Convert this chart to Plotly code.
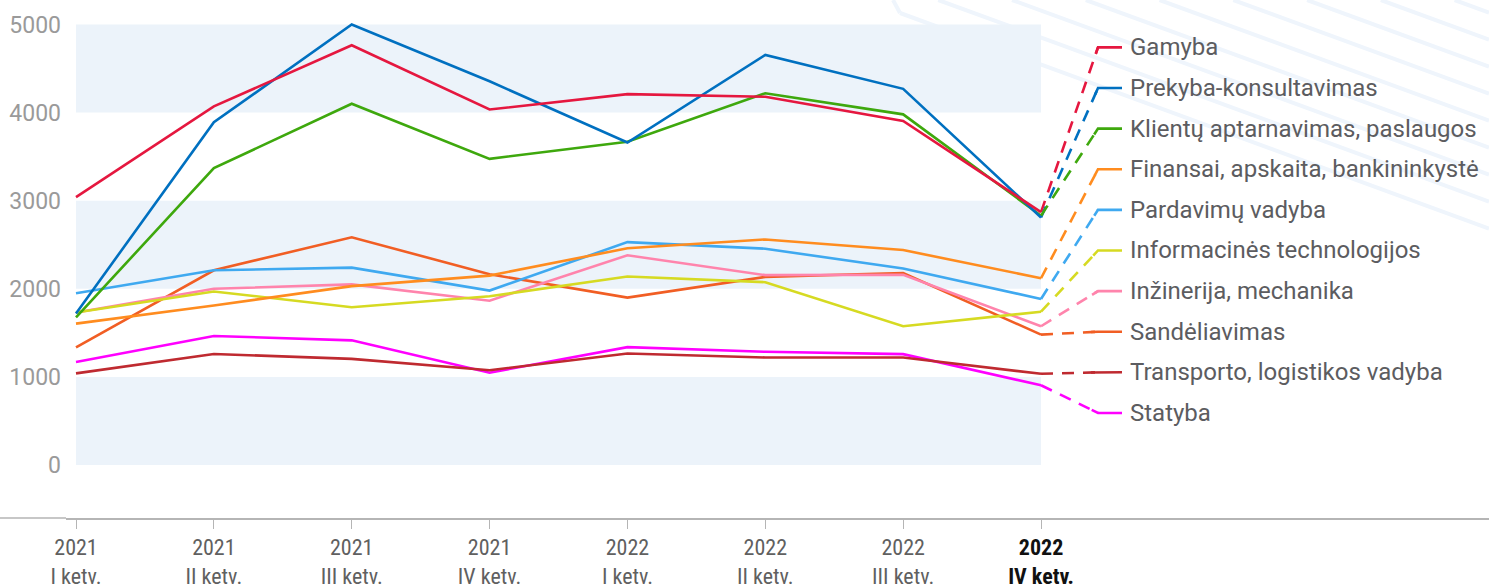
import plotly.graph_objects as go

# ---------------- data ----------------
years = ["2021", "2021", "2021", "2021", "2022", "2022", "2022", "2022"]
quarters = ["I ketv.", "II ketv.", "III ketv.", "IV ketv.", "I ketv.", "II ketv.", "III ketv.", "IV ketv."]

series_names = [
    "Gamyba",
    "Prekyba-konsultavimas",
    "Klientų aptarnavimas, paslaugos",
    "Finansai, apskaita, bankininkystė",
    "Pardavimų vadyba",
    "Informacinės technologijos",
    "Inžinerija, mechanika",
    "Sandėliavimas",
    "Transporto, logistikos vadyba",
    "Statyba",
]

gamyba = [3040, 4070, 4765, 4035, 4210, 4180, 3905, 2870]
prekyba = [1720, 3890, 5000, 4355, 3660, 4655, 4270, 2810]
klientu = [1675, 3370, 4100, 3475, 3670, 4220, 3980, 2830]
finansai = [1605, 1810, 2030, 2150, 2460, 2560, 2440, 2120]
pardavimu = [1950, 2210, 2240, 1980, 2530, 2455, 2230, 1885]
it = [1730, 1970, 1790, 1915, 2140, 2075, 1575, 1740]
inzinerija = [1730, 2000, 2050, 1865, 2380, 2155, 2160, 1575]
sandeliavimas = [1335, 2210, 2585, 2165, 1900, 2135, 2180, 1480]
transporto = [1040, 1260, 1205, 1075, 1265, 1220, 1220, 1035]
statyba = [1170, 1465, 1415, 1048, 1338, 1285, 1258, 905]

y_ticks = [0, 1000, 2000, 3000, 4000, 5000]
band_ranges = [(0, 1000), (2000, 3000), (4000, 5000)]

# ---------------- styles ----------------
values = [gamyba, prekyba, klientu, finansai, pardavimu, it, inzinerija,
          sandeliavimas, transporto, statyba]
colors = ["#E5173F", "#0070C0", "#3EA80D", "#FF8C1F", "#3FA9F0",
          "#D6DA22", "#FF84AC", "#F15E24", "#BF2A30", "#FF00FF"]

W, H = 1489, 584
ML, MR, MT, MB = 66, 0, 0, 66
x0_px, dx_px = 76.0, 137.86          # pixel of category 0, pixels per category
y5000_px, y0_px = 24.5, 465.0         # pixel of 5000 and 0
py_per = (y0_px - y5000_px) / 5000.0  # pixels per unit
plot_w = W - ML - MR
plot_h = H - MT - MB
x_range = [(ML - x0_px) / dx_px, (W - MR - x0_px) / dx_px]
y_range = [-(H - MB - y0_px) / py_per, 5000 + (y5000_px - MT) / py_per]

xs = list(range(len(years)))
ticktext = [f"{y}<br>{q}" for y, q in zip(years, quarters)]
ticktext[-1] = f"<span style='color:#111111'><b>{years[-1]}<br>{quarters[-1]}</b></span>"

fig = go.Figure()

# decorative diagonal stripes (top-right)
shapes = []
stripe_col = "#EFF5FC"
for k in range(14):
    def ypx(x):
        return 13 + 0.366 * (x - 900) - k * 27
    xs_start = max(900.0, 900 + (k * 27 - 13) / 0.366)
    xe = W
    ys = ypx(xs_start)
    ye = ypx(xe)
    if ye < 0:
        continue
    shapes.append(dict(type="line", xref="paper", yref="paper", layer="below",
                       x0=(xs_start - ML) / plot_w, y0=(H - MB - ys) / plot_h,
                       x1=(xe - ML) / plot_w, y1=(H - MB - ye) / plot_h,
                       line=dict(color=stripe_col, width=4)))
shapes.append(dict(type="line", xref="paper", yref="paper", layer="below",
                   x0=(893 - ML) / plot_w, y0=1.0, x1=(900 - ML) / plot_w,
                   y1=(H - MB - 13) / plot_h, line=dict(color=stripe_col, width=4)))

for lo, hi in band_ranges:
    shapes.append(dict(type="rect", xref="x", yref="y", layer="below",
                       x0=0, x1=len(xs) - 1, y0=lo, y1=hi,
                       fillcolor="#ECF3FA", line=dict(width=0)))

# extend x-axis line to the left edge
shapes.append(dict(type="line", xref="paper", yref="paper",
                   x0=-ML / plot_w, x1=0, y0=0, y1=0,
                   line=dict(color="#B5B5B5", width=1.5)))

# legend connectors & labels
label_top, label_step = 4740, 461
corner_x = (1098 - x0_px) / dx_px
end_x = (1122 - x0_px) / dx_px
text_x = (1128 - x0_px) / dx_px
annotations = []
for i, (name, vals, col) in enumerate(zip(series_names, values, colors)):
    ly = label_top - i * label_step
    fig.add_trace(go.Scatter(x=[xs[-1], corner_x], y=[vals[-1], ly], mode="lines",
                             line=dict(color=col, width=2.6, dash="12px,9px"),
                             hoverinfo="skip", showlegend=False))
    dxp = (corner_x - xs[-1]) * dx_px
    dyp = (ly - vals[-1]) * py_per
    ln = (dxp ** 2 + dyp ** 2) ** 0.5
    f = min(1.0, 7.0 / ln)
    sx = corner_x - (corner_x - xs[-1]) * f
    sy = ly - (ly - vals[-1]) * f
    fig.add_trace(go.Scatter(x=[sx, corner_x, end_x], y=[sy, ly, ly], mode="lines",
                             line=dict(color=col, width=2.6),
                             hoverinfo="skip", showlegend=False))
    annotations.append(dict(x=text_x, y=ly, xref="x", yref="y", text=name,
                            showarrow=False, xanchor="left", yanchor="middle",
                            font=dict(family="Roboto", size=24, color="#5C5C60")))

# main lines (drawn in reverse so first series ends on top)
for name, vals, col in reversed(list(zip(series_names, values, colors))):
    fig.add_trace(go.Scatter(x=xs, y=vals, mode="lines", name=name,
                             line=dict(color=col, width=2.6),
                             showlegend=False))

fig.update_layout(
    width=W, height=H,
    margin=dict(l=ML, r=MR, t=MT, b=MB, autoexpand=False),
    paper_bgcolor="white", plot_bgcolor="white",
    showlegend=False,
    shapes=shapes,
    annotations=annotations,
    font=dict(family="Roboto"),
    xaxis=dict(range=x_range, tickmode="array", tickvals=xs, ticktext=ticktext,
               automargin=False,
               showgrid=False, zeroline=False, showline=True,
               linecolor="#B5B5B5", linewidth=1.5,
               ticks="outside", ticklen=9, tickcolor="#B5B5B5", tickwidth=1,
               tickfont=dict(family="Liberation Sans Narrow, Roboto Condensed, DejaVu Sans Condensed, Roboto",
                             size=22, color="#606060")),
    yaxis=dict(range=y_range, tickmode="array", tickvals=y_ticks,
               automargin=False,
               showgrid=False, zeroline=False, showline=False, ticks="",
               ticklabelstandoff=4,
               tickfont=dict(family="Roboto", size=23, color="#9A9A9A")),
)

fig.write_html("out.html", config={"displayModeBar": False},
               post_script="document.body.style.margin='0px';")
